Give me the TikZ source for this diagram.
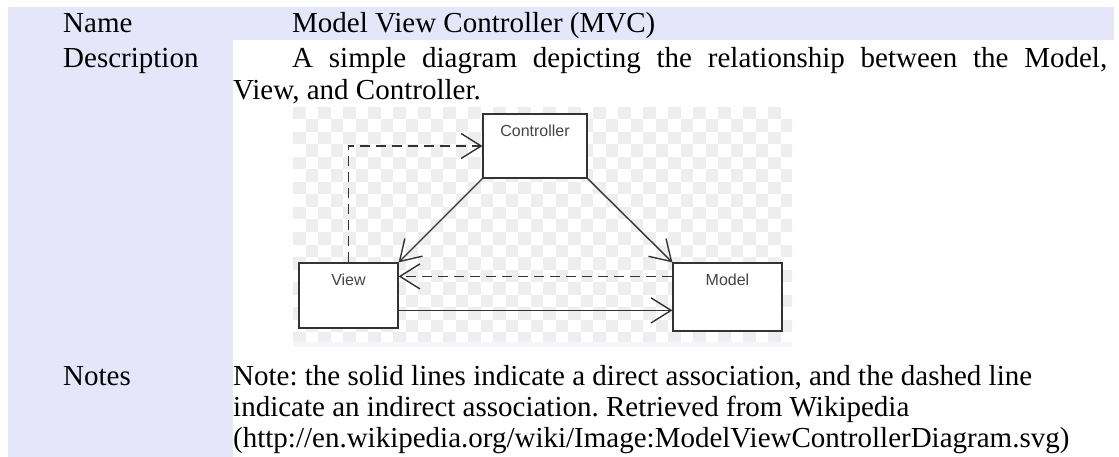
\documentclass[tikz,border=0pt]{standalone}
\usepackage{fontspec}
\setmainfont{Liberation Serif}
\newfontfamily\diagsans{Liberation Sans}
\usetikzlibrary{arrows.meta}
\frenchspacing
\definecolor{lav}{HTML}{E6E6FA}
\definecolor{checkgray}{HTML}{EEEEEE}
\definecolor{stripblue}{HTML}{F3F7FC}
\definecolor{ink}{HTML}{333333}
\definecolor{labelgray}{HTML}{444444}
\tikzset{
  cell/.style={anchor=base west, inner sep=0pt, font=\fontsize{29}{31}\selectfont},
  umlbox/.style={draw=ink, fill=white, line width=1.2pt, inner sep=0pt},
  boxlabel/.style={anchor=north, yshift=-11pt, inner sep=0pt, text=labelgray, font=\diagsans\fontsize{16}{18}\selectfont},
  assoc/.style={draw=ink, line width=1.4pt, -{Straight Barb[length=20pt,width=25pt]}},
  indirect/.style={assoc, dash pattern=on 10pt off 6pt},
}
\begin{document}
\begin{tikzpicture}[x=1pt,y=-1pt]
\useasboundingbox (0,0) rectangle (1119,457);
% table backgrounds
\fill[lav] (8,7) rectangle (1114,40);
\fill[lav] (8,40) rectangle (233,457);
% header cells
\node[cell] (nameh) at (63,33) {Name};
\node[cell] (namev) at (292,33) {Model View Controller (MVC)};
\node[cell] (desch) at (63,68) {Description};
\node[cell] (desc1) at (292,68) {\makebox[815pt][s]{A simple diagram depicting the relationship between the Model,}};
\node[cell] (desc2) at (233,100) {View, and Controller.};
\node[cell] (notesh) at (63,385) {Notes};
\node[cell] (notes1) at (233,385) {Note: the solid lines indicate a direct association, and the dashed line};
\node[cell] (notes2) at (233,416) {indicate an indirect association. Retrieved from Wikipedia};
\node[cell] (notes3) at (233,447) {(http://en.wikipedia.org/wiki/Image:ModelViewControllerDiagram.svg)};
% checkerboard image background
\begin{scope}
\clip (293,107) rectangle (792,342);
\fill[white] (293,107) rectangle (792,342);
\foreach \i in {0,...,39}{
  \foreach \j in {0,...,18}{
    \pgfmathtruncatemacro\k{mod(\i+\j,2)}
    \ifnum\k=0
      \fill[checkgray] ({293+12.5*\i},{107+12.5*\j}) rectangle ++(12.5,12.5);
    \fi
  }
}
\end{scope}
\fill[stripblue] (293,342) rectangle (792,347);
% boxes
\node[umlbox, minimum width=104pt, minimum height=64pt,
      label={[boxlabel]north:Controller}] (ctrl) at (535,146) {};
\node[umlbox, minimum width=99pt, minimum height=65pt,
      label={[boxlabel]north:View}] (view) at (348.5,295.5) {};
\node[umlbox, minimum width=109pt, minimum height=68pt,
      label={[boxlabel]north:Model}] (model) at (727.5,297) {};
% connectors
\draw[indirect] (view.north) |- (ctrl.west);
\draw[assoc] (ctrl.south west) -- (view.north east);
\draw[assoc] (ctrl.south east) -- (model.north west);
\draw[indirect] ([yshift=-14pt]model.north west) -- ([yshift=-14pt]view.north east);
\draw[assoc] ([yshift=-48pt]view.north east) -- ([yshift=-48pt]model.north west);
\end{tikzpicture}
\end{document}
